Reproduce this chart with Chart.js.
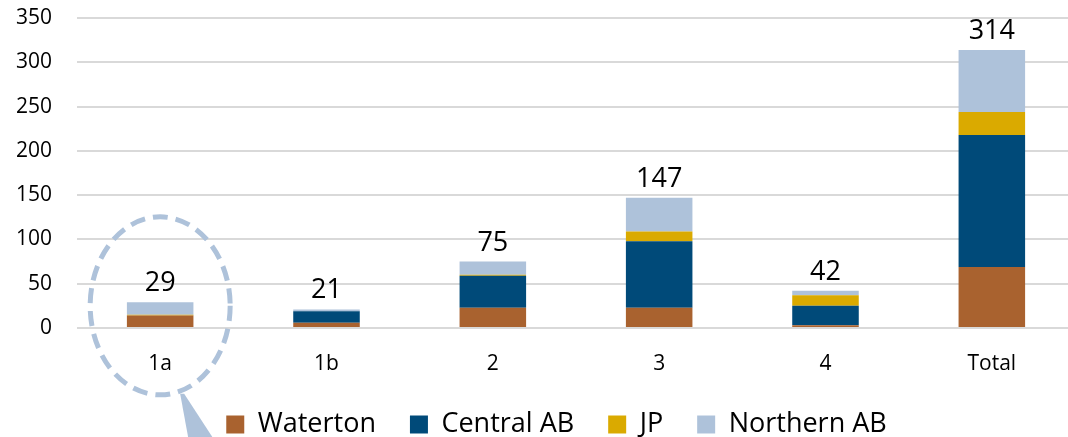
<!DOCTYPE html>
<html>
<head>
<meta charset="utf-8">
<script src="https://cdn.jsdelivr.net/npm/chart.js@4.4.1/dist/chart.umd.min.js"></script>
<style>
  html, body { margin: 0; padding: 0; background: #fff; overflow: hidden; }
  #wrap { position: relative; width: 1075px; height: 437px; }
</style>
</head>
<body>
<div id="wrap"><canvas id="chart"></canvas></div>
<script>
// categories and series
const categories = ['1a', '1b', '2', '3', '4', 'Total'];
const waterton   = [14, 6, 23, 23, 3, 69];
const centralAB  = [0, 13, 36, 75, 22, 149];
const jp         = [1, 0, 1, 11, 12, 26];
const northernAB = [14, 2, 15, 38, 5, 70];
const totals     = [29, 21, 75, 147, 42, 314];
const yTicks     = [0, 50, 100, 150, 200, 250, 300, 350];

const FONT = '"Open Sans", "DejaVu Sans", sans-serif';
Chart.defaults.font.family = FONT;
Chart.defaults.color = '#000';

// numbers on top of each stack
const totalLabels = {
    id: 'totalLabels',
    afterDatasetsDraw(chart) {
        const { ctx, scales: { x, y } } = chart;
        ctx.save();
        ctx.font = '27px ' + FONT;
        ctx.fillStyle = '#000';
        ctx.textAlign = 'center';
        ctx.textBaseline = 'alphabetic';
        totals.forEach((t, i) => {
            ctx.fillText(String(t), x.getPixelForValue(i), y.getPixelForValue(t) - 11);
        });
        ctx.restore();
    }
};

// dashed callout ring round the first column
const callout = {
    id: 'callout',
    afterDraw(chart) {
        const { ctx, scales: { x, y } } = chart;
        const cx = x.getPixelForValue(0);
        const cy = y.getPixelForValue(25);
        const rx = 70, ry = 89;
        ctx.save();
        ctx.strokeStyle = '#AEC2DA';
        ctx.fillStyle = '#AEC2DA';
        ctx.lineWidth = 5;
        ctx.setLineDash([15, 8]);
        ctx.beginPath();
        ctx.ellipse(cx, cy, rx, ry, 0, 0, Math.PI * 2);
        ctx.stroke();
        ctx.setLineDash([]);
        ctx.beginPath();
        ctx.moveTo(cx + 20, cy + ry - 1);
        ctx.lineTo(cx + 24, cy + ry - 1);
        ctx.lineTo(cx + 56, cy + ry + 48);
        ctx.lineTo(cx + 29, cy + ry + 48);
        ctx.closePath();
        ctx.fill();
        ctx.restore();
    }
};

// legend sits a bit right of the canvas centre in the original
const legendNudge = {
    id: 'legendNudge',
    afterLayout(chart) {
        chart.legend.left += 19;
        chart.legend.right += 19;
    }
};

const ctx = document.getElementById('chart').getContext('2d');
const chart = new Chart(ctx, {
    type: 'bar',
    data: {
        labels: categories,
        datasets: [
            { label: 'Waterton',   data: waterton,   backgroundColor: '#A9622F' },
            { label: 'Central AB', data: centralAB,  backgroundColor: '#004A79' },
            { label: 'JP',         data: jp,         backgroundColor: '#DAAA00' },
            { label: 'Northern AB', data: northernAB, backgroundColor: '#AEC2DA' }
        ]
    },
    options: {
        responsive: true,
        maintainAspectRatio: false,
        animation: false,
        datasets: { bar: { barPercentage: 0.4, categoryPercentage: 1 } },
        layout: { padding: { left: 0, right: 0, top: 18, bottom: -11 } },
        plugins: {
            tooltip: { enabled: false },
            legend: {
                position: 'bottom',
                labels: {
                    boxWidth: 18,
                    boxHeight: 18,
                    padding: 34,
                    color: '#000',
                    font: { size: 27 }
                }
            }
        },
        scales: {
            x: {
                stacked: true,
                grid: { display: false, drawTicks: false },
                border: { display: false },
                ticks: { padding: 23, font: { size: 21 } },
                afterFit: s => { s.height = 49; }
            },
            y: {
                stacked: true,
                min: 0,
                max: 350,
                afterBuildTicks: s => { s.ticks = yTicks.map(v => ({ value: v })); },
                grid: { color: '#D9D9D9', lineWidth: 2, drawTicks: false },
                border: { display: false },
                ticks: { padding: 25, font: { size: 21 } },
                afterFit: s => { s.width = 77; s.paddingTop = 0; s.paddingBottom = 0; }
            }
        }
    },
    plugins: [totalLabels, callout, legendNudge]
});
</script>
</body>
</html>
